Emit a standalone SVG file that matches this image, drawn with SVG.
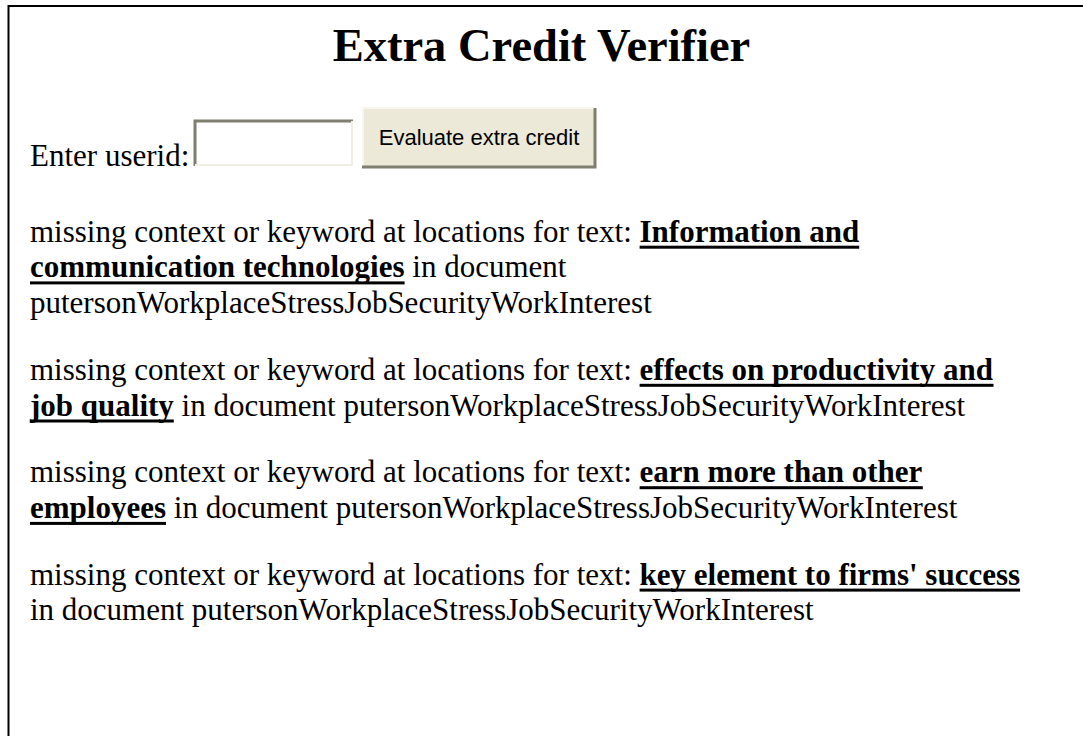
<svg xmlns="http://www.w3.org/2000/svg" width="1083" height="736" viewBox="0 0 1083 736">
<style>
.t{font-family:"Liberation Serif","Times New Roman",serif;font-size:31px;fill:#000}
.b{font-weight:bold}
.u{fill:#000}
.h{font-family:"Liberation Serif","Times New Roman",serif;font-size:46.5px;font-weight:bold;fill:#000}
.btn{font-family:"Liberation Sans",Arial,sans-serif;font-size:22px;fill:#000}
</style>
<rect width="1083" height="736" fill="#fff"/>
<g id="frame">
<path d="M8.5 736 V6 H1083" fill="none" stroke="#000" stroke-width="2"/>
</g>
<g id="title"><text class="h" x="541.5" y="61" text-anchor="middle">Extra Credit Verifier</text></g>
<g id="form">
<text class="t" x="30" y="166">Enter userid:</text>
<rect x="194" y="120" width="159" height="46" fill="#fff"/>
<path d="M195 166 V121 H353" fill="none" stroke="#7f7f70" stroke-width="3"/>
<path d="M195 165 H352 V121" fill="none" stroke="#f1eee2" stroke-width="2"/>
<rect x="363" y="108" width="233" height="60" fill="#ece9d8"/>
<path d="M363 168 V108 H596" fill="none" stroke="#f7f6f0" stroke-width="2"/>
<path d="M362 167 H595 V108" fill="none" stroke="#7f7f70" stroke-width="3"/>
<text class="btn" x="479" y="145" text-anchor="middle">Evaluate extra credit</text>
</g>
<g id="p1">
<text class="t" x="30" y="241.7">missing context or keyword at locations for text: <tspan class="b">Information and</tspan></text>
<rect class="u" x="639.6" y="245.7" width="219.6" height="3"/>
<text class="t" x="30" y="277.4"><tspan class="b">communication technologies</tspan> in document</text>
<rect class="u" x="30" y="281.4" width="374.6" height="3"/>
<text class="t" x="30" y="313.1">putersonWorkplaceStressJobSecurityWorkInterest</text>
</g>
<g id="p2">
<text class="t" x="30" y="379.8">missing context or keyword at locations for text: <tspan class="b">effects on productivity and</tspan></text>
<rect class="u" x="639.6" y="383.8" width="353.9" height="3"/>
<text class="t" x="30" y="415.5"><tspan class="b">job quality</tspan> in document putersonWorkplaceStressJobSecurityWorkInterest</text>
<rect class="u" x="30" y="419.5" width="143.8" height="3"/>
</g>
<g id="p3">
<text class="t" x="30" y="482.2">missing context or keyword at locations for text: <tspan class="b">earn more than other</tspan></text>
<rect class="u" x="639.6" y="486.2" width="283.2" height="3"/>
<text class="t" x="30" y="517.9"><tspan class="b">employees</tspan> in document putersonWorkplaceStressJobSecurityWorkInterest</text>
<rect class="u" x="30" y="521.9" width="136" height="3"/>
</g>
<g id="p4">
<text class="t" x="30" y="584.6">missing context or keyword at locations for text: <tspan class="b">key element to firms' success</tspan></text>
<rect class="u" x="639.6" y="588.6" width="380.5" height="3"/>
<text class="t" x="30" y="620.3">in document putersonWorkplaceStressJobSecurityWorkInterest</text>
</g>
</svg>
